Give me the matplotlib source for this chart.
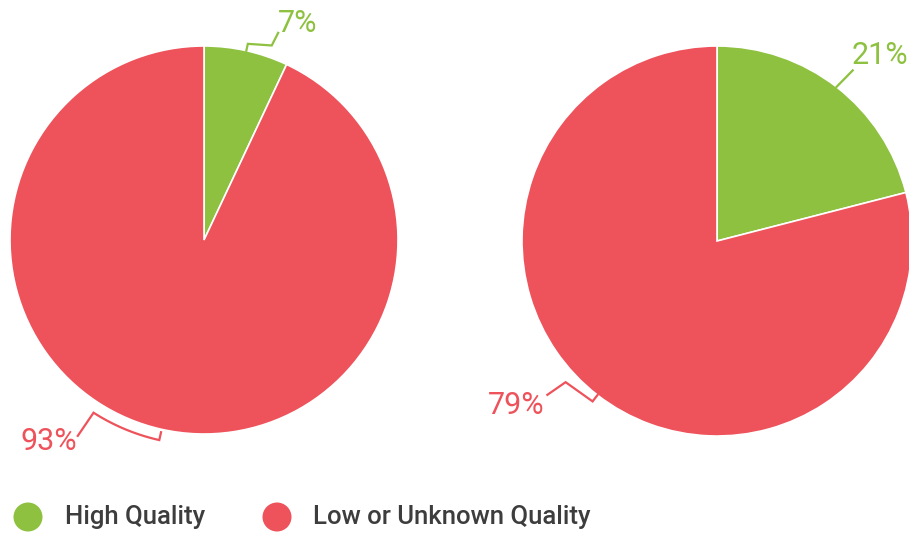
import numpy as np
import matplotlib.pyplot as plt
from matplotlib.patches import Circle

plt.rcParams['font.family'] = ['Roboto', 'DejaVu Sans']

# share of sources in each group
categories = ['High Quality', 'Low or Unknown Quality']
left_values = [7, 93]
right_values = [21, 79]
pct_labels_left = ['7%', '93%']
pct_labels_right = ['21%', '79%']

green = '#8dc13f'
red = '#ee525b'
colors = [green, red]

W, H = 909, 533
fig = plt.figure(figsize=(W / 100, H / 100), dpi=100)
ax = fig.add_axes([0, 0, 1, 1])


def px(x, y):
    # pixel position (top-left origin) -> data coords
    return x, H - y


def polar(center, ang, r):
    a = np.radians(ang)
    return center[0] + r * np.cos(a), center[1] + r * np.sin(a)


def mid_angles(values):
    total = float(sum(values))
    mids, start = [], 90.0
    for v in values:
        span = 360.0 * v / total
        mids.append(start - span / 2)
        start -= span
    return mids


c1, r1 = px(204, 240), 194
c2, r2 = px(717, 241), 195

for vals, c, r in [(left_values, c1, r1), (right_values, c2, r2)]:
    ax.pie(vals, colors=colors, startangle=90, counterclock=False,
           center=c, radius=r, frame=True,
           wedgeprops=dict(edgecolor='white', linewidth=1.2))

m1 = mid_angles(left_values)
m2 = mid_angles(right_values)

# leader lines: (angle offset from slice middle, radius)
leaders = [
    (c1, m1[0], [(0, r1), (0, r1 + 7), (-6.6, r1 + 12), (-7.1, r1 + 26)], green),
    (c1, m1[1], [(0, r1 + 3), (0, r1 + 11), (-20, r1 + 11), (-20.2, r1 + 39)], red),
    (c2, m2[0], [(0, r2), (-0.7, r2 + 23)], green),
    (c2, m2[1], [(0, r2), (0, r2 + 8), (-9.2, r2 + 12), (-10, r2 + 34)], red),
]
for c, mid, pts, col in leaders:
    if len(pts) == 4 and pts[2][0] == -20:
        # bracket following the rim
        arc = np.linspace(0, -20, 30)
        xy = [polar(c, mid + pts[0][0], pts[0][1]), polar(c, mid, pts[1][1])]
        xy += [polar(c, mid + a, pts[1][1]) for a in arc]
        xy += [polar(c, mid + pts[3][0], pts[3][1])]
    else:
        xy = [polar(c, mid + a, r) for a, r in pts]
    xs, ys = zip(*xy)
    ax.plot(xs, ys, color=col, lw=1.6, solid_joinstyle='miter')

# percentage labels
label_pos = [
    (pct_labels_left[0], (298, 23), green),
    (pct_labels_left[1], (49, 441), red),
    (pct_labels_right[0], (880, 55), green),
    (pct_labels_right[1], (516, 405), red),
]
for txt, (x, y), col in label_pos:
    ax.text(*px(x, y), txt, color=col, fontsize=22, ha='center', va='center')

# legend
legend_x = [(28, 65), (277, 313)]
for (cx, tx), name, col in zip(legend_x, categories, colors):
    ax.add_patch(Circle(px(cx, 517), 14.5, color=col, lw=0))
    ax.text(*px(tx, 517), name, color='#3d3d3d', fontsize=18.5,
            fontweight='medium', ha='left', va='center')

ax.set_xlim(0, W)
ax.set_ylim(0, H)
ax.set_aspect('auto')
ax.axis('off')

fig.savefig('out.png', dpi=100, facecolor='white')
